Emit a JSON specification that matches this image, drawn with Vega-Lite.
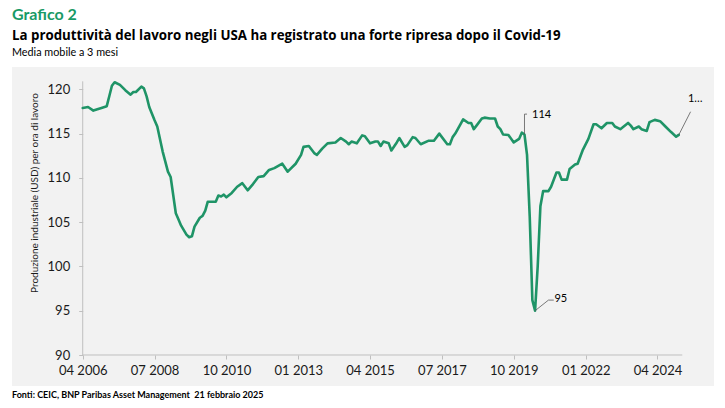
{
  "$schema": "https://vega.github.io/schema/vega-lite/v6.json",
  "background": "white",
  "padding": {"left": 12, "top": 6, "right": 11, "bottom": 0},
  "config": {
    "view": {"fill": "#f2f2f2", "stroke": null},
    "font": "Lato",
    "concat": {"spacing": 0}
  },
  "title": {
    "text": "Grafico 2",
    "subtitle": "La produttività del lavoro negli USA ha registrato una forte ripresa dopo il Covid-19",
    "anchor": "start",
    "frame": "bounds",
    "font": "Lato",
    "fontSize": 16,
    "fontWeight": "bold",
    "color": "#199a66",
    "subtitleFont": "Open Sans",
    "subtitleFontSize": 13.3,
    "subtitleFontWeight": "bold",
    "subtitleColor": "#000000",
    "subtitlePadding": 6,
    "offset": 5
  },
  "vconcat": [
    {
      "title": {
        "text": "Media mobile a 3 mesi",
        "anchor": "start",
        "frame": "bounds",
        "font": "Lato",
        "fontSize": 10.8,
        "fontWeight": "normal",
        "color": "#000000",
        "offset": 9
      },
      "vconcat": [
        {
          "title": {
            "text": "Fonti: CEIC, BNP Paribas Asset Management\u00a0 21 febbraio 2025",
            "orient": "bottom",
            "anchor": "start",
            "frame": "bounds",
            "font": "Lato",
            "fontSize": 9,
            "fontWeight": "bold",
            "color": "#000000",
            "offset": 5
          },
          "width": 702,
          "height": 319,
          "data": {
            "values": [
              {"date": "2006-04-01", "value": 117.9},
              {"date": "2006-06-01", "value": 118.0},
              {"date": "2006-08-01", "value": 117.6},
              {"date": "2006-11-01", "value": 117.9},
              {"date": "2007-01-01", "value": 118.1},
              {"date": "2007-02-01", "value": 119.3},
              {"date": "2007-03-01", "value": 120.4},
              {"date": "2007-04-01", "value": 120.8},
              {"date": "2007-06-01", "value": 120.5},
              {"date": "2007-08-01", "value": 119.9},
              {"date": "2007-10-01", "value": 119.4},
              {"date": "2007-11-01", "value": 119.7},
              {"date": "2007-12-01", "value": 119.7},
              {"date": "2008-02-01", "value": 120.3},
              {"date": "2008-03-01", "value": 120.1},
              {"date": "2008-04-01", "value": 119.2},
              {"date": "2008-05-01", "value": 118.0},
              {"date": "2008-07-01", "value": 116.5},
              {"date": "2008-08-01", "value": 115.8},
              {"date": "2008-10-01", "value": 113.0},
              {"date": "2008-12-01", "value": 110.7},
              {"date": "2009-01-01", "value": 110.1},
              {"date": "2009-03-01", "value": 106.0},
              {"date": "2009-04-01", "value": 105.3},
              {"date": "2009-05-01", "value": 104.6},
              {"date": "2009-07-01", "value": 103.6},
              {"date": "2009-08-01", "value": 103.3},
              {"date": "2009-09-01", "value": 103.4},
              {"date": "2009-10-01", "value": 104.5},
              {"date": "2009-12-01", "value": 105.5},
              {"date": "2010-01-01", "value": 105.7},
              {"date": "2010-02-01", "value": 106.3},
              {"date": "2010-03-01", "value": 107.3},
              {"date": "2010-06-01", "value": 107.3},
              {"date": "2010-07-01", "value": 108.0},
              {"date": "2010-08-01", "value": 107.9},
              {"date": "2010-09-01", "value": 108.1},
              {"date": "2010-10-01", "value": 107.8},
              {"date": "2010-12-01", "value": 108.3},
              {"date": "2011-02-01", "value": 109.0},
              {"date": "2011-04-01", "value": 109.4},
              {"date": "2011-06-01", "value": 108.6},
              {"date": "2011-08-01", "value": 109.3},
              {"date": "2011-10-01", "value": 110.1},
              {"date": "2011-12-01", "value": 110.2},
              {"date": "2012-02-01", "value": 110.9},
              {"date": "2012-04-01", "value": 111.1},
              {"date": "2012-07-01", "value": 111.6},
              {"date": "2012-09-01", "value": 110.7},
              {"date": "2012-12-01", "value": 111.6},
              {"date": "2013-02-01", "value": 112.6},
              {"date": "2013-03-01", "value": 113.5},
              {"date": "2013-05-01", "value": 113.6},
              {"date": "2013-07-01", "value": 112.8},
              {"date": "2013-08-01", "value": 112.6},
              {"date": "2013-10-01", "value": 113.3},
              {"date": "2013-12-01", "value": 113.9},
              {"date": "2014-03-01", "value": 114.0},
              {"date": "2014-05-01", "value": 114.5},
              {"date": "2014-07-01", "value": 114.1},
              {"date": "2014-08-01", "value": 113.8},
              {"date": "2014-09-01", "value": 114.1},
              {"date": "2014-11-01", "value": 113.9},
              {"date": "2015-01-01", "value": 114.8},
              {"date": "2015-02-01", "value": 114.7},
              {"date": "2015-04-01", "value": 113.9},
              {"date": "2015-06-01", "value": 114.1},
              {"date": "2015-07-01", "value": 114.1},
              {"date": "2015-08-01", "value": 113.6},
              {"date": "2015-09-01", "value": 114.1},
              {"date": "2015-11-01", "value": 113.9},
              {"date": "2015-12-01", "value": 113.1},
              {"date": "2016-02-01", "value": 114.0},
              {"date": "2016-03-01", "value": 114.5},
              {"date": "2016-05-01", "value": 113.5},
              {"date": "2016-06-01", "value": 113.7},
              {"date": "2016-08-01", "value": 114.6},
              {"date": "2016-09-01", "value": 114.5},
              {"date": "2016-11-01", "value": 113.8},
              {"date": "2017-02-01", "value": 114.2},
              {"date": "2017-04-01", "value": 114.2},
              {"date": "2017-06-01", "value": 115.0},
              {"date": "2017-09-01", "value": 113.8},
              {"date": "2017-10-01", "value": 113.8},
              {"date": "2017-11-01", "value": 114.6},
              {"date": "2017-12-01", "value": 115.0},
              {"date": "2018-02-01", "value": 116.1},
              {"date": "2018-03-01", "value": 116.6},
              {"date": "2018-05-01", "value": 116.2},
              {"date": "2018-06-01", "value": 116.2},
              {"date": "2018-07-01", "value": 115.5},
              {"date": "2018-08-01", "value": 115.9},
              {"date": "2018-10-01", "value": 116.7},
              {"date": "2018-11-01", "value": 116.8},
              {"date": "2019-01-01", "value": 116.7},
              {"date": "2019-03-01", "value": 116.7},
              {"date": "2019-04-01", "value": 115.8},
              {"date": "2019-05-01", "value": 115.5},
              {"date": "2019-06-01", "value": 114.9},
              {"date": "2019-08-01", "value": 114.85},
              {"date": "2019-10-01", "value": 114.0},
              {"date": "2019-12-01", "value": 114.4},
              {"date": "2020-01-01", "value": 115.1},
              {"date": "2020-02-01", "value": 114.9, "label": "114"},
              {"date": "2020-03-01", "value": 112.6},
              {"date": "2020-04-01", "value": 105.6},
              {"date": "2020-05-01", "value": 96.2},
              {"date": "2020-06-01", "value": 95.0, "label": "95"},
              {"date": "2020-07-01", "value": 100.0},
              {"date": "2020-08-01", "value": 106.8},
              {"date": "2020-09-01", "value": 108.5},
              {"date": "2020-11-01", "value": 108.5},
              {"date": "2020-12-01", "value": 109.0},
              {"date": "2021-02-01", "value": 110.6},
              {"date": "2021-03-01", "value": 110.6},
              {"date": "2021-04-01", "value": 109.8},
              {"date": "2021-06-01", "value": 109.8},
              {"date": "2021-07-01", "value": 111.0},
              {"date": "2021-09-01", "value": 111.5},
              {"date": "2021-10-01", "value": 111.6},
              {"date": "2021-12-01", "value": 113.2},
              {"date": "2022-02-01", "value": 114.4},
              {"date": "2022-04-01", "value": 116.05},
              {"date": "2022-05-01", "value": 116.05},
              {"date": "2022-07-01", "value": 115.6},
              {"date": "2022-09-01", "value": 116.2},
              {"date": "2022-11-01", "value": 116.2},
              {"date": "2022-12-01", "value": 115.8},
              {"date": "2023-02-01", "value": 115.5},
              {"date": "2023-05-01", "value": 116.2},
              {"date": "2023-06-01", "value": 115.9},
              {"date": "2023-07-01", "value": 115.5},
              {"date": "2023-09-01", "value": 115.8},
              {"date": "2023-10-01", "value": 115.5},
              {"date": "2023-12-01", "value": 115.3},
              {"date": "2024-01-01", "value": 116.3},
              {"date": "2024-03-01", "value": 116.55},
              {"date": "2024-05-01", "value": 116.4},
              {"date": "2024-07-01", "value": 115.8},
              {"date": "2024-09-01", "value": 115.2},
              {"date": "2024-11-01", "value": 114.65},
              {"date": "2024-12-01", "value": 114.85, "label": "1…"}
            ]
          },
          "layer": [
            {
              "data": {"values": [{}]},
              "mark": {"type": "rule", "color": "#bfbfbf", "strokeWidth": 1},
              "encoding": {
                "x": {"datum": {"year": 2006, "month": 4, "date": 1, "utc": true}, "type": "temporal"},
                "x2": {"datum": {"year": 2025, "month": 1, "date": 10, "utc": true}},
                "y": {"datum": 90, "type": "quantitative"}
              }
            },
            {
              "data": {"values": [{}]},
              "mark": {"type": "rule", "color": "#bfbfbf", "strokeWidth": 1},
              "encoding": {
                "x": {"datum": {"year": 2006, "month": 4, "date": 1, "utc": true}, "type": "temporal"},
                "y": {"datum": 90, "type": "quantitative"},
                "y2": {"datum": 120.9}
              }
            },
            {
              "mark": {"type": "line", "color": "#1f9467", "strokeWidth": 2.6, "strokeJoin": "round", "strokeCap": "round"},
              "encoding": {
                "x": {
                  "field": "date",
                  "type": "temporal",
                  "scale": {
                    "type": "utc",
                    "domain": [
                      {"year": 2004, "month": 1, "date": 13, "utc": true},
                      {"year": 2026, "month": 1, "date": 8, "utc": true}
                    ],
                    "nice": false
                  },
                  "axis": {
                    "values": [
                      {"year": 2006, "month": 4, "date": 1, "utc": true},
                      {"year": 2008, "month": 7, "date": 1, "utc": true},
                      {"year": 2010, "month": 10, "date": 1, "utc": true},
                      {"year": 2013, "month": 1, "date": 1, "utc": true},
                      {"year": 2015, "month": 4, "date": 1, "utc": true},
                      {"year": 2017, "month": 7, "date": 1, "utc": true},
                      {"year": 2019, "month": 10, "date": 1, "utc": true},
                      {"year": 2022, "month": 1, "date": 1, "utc": true},
                      {"year": 2024, "month": 4, "date": 1, "utc": true}
                    ],
                    "labelExpr": "utcFormat(datum.value, '%m %Y')",
                    "offset": -31,
                    "domain": false,
                    "grid": false,
                    "ticks": true,
                    "tickSize": 4,
                    "tickColor": "#bfbfbf",
                    "labelFont": "Lato",
                    "labelFontSize": 13,
                    "labelColor": "#1a1a1a",
                    "labelPadding": 5,
                    "labelFlush": false,
                    "labelOverlap": false,
                    "title": null
                  }
                },
                "y": {
                  "field": "value",
                  "type": "quantitative",
                  "scale": {"domain": [86.5, 122.52], "nice": false, "zero": false},
                  "axis": {
                    "values": [90, 95, 100, 105, 110, 115, 120],
                    "offset": -70.7,
                    "domain": false,
                    "grid": false,
                    "tickSize": 4,
                    "tickColor": "#bfbfbf",
                    "labelFont": "Lato",
                    "labelFontSize": 13,
                    "labelColor": "#1a1a1a",
                    "labelPadding": 9,
                    "title": "Produzione industriale (USD) per ora di lavoro",
                    "titleFont": "Lato",
                    "titleFontSize": 10,
                    "titleFontWeight": "normal",
                    "titleColor": "#1a1a1a",
                    "titlePadding": 8,
                    "titleY": 125.5
                  }
                }
              }
            },
            {
              "transform": [{"filter": "datum.label == '114'"}],
              "mark": {"type": "rule", "color": "#595959", "strokeWidth": 0.8},
              "encoding": {
                "x": {"field": "date", "type": "temporal"},
                "y": {"field": "value", "type": "quantitative"},
                "y2": {"datum": 117.2}
              }
            },
            {
              "transform": [{"filter": "datum.label == '114'"}],
              "mark": {"type": "rule", "color": "#595959", "strokeWidth": 0.8},
              "encoding": {
                "x": {"field": "date", "type": "temporal"},
                "x2": {"datum": {"year": 2020, "month": 3, "date": 1, "utc": true}},
                "y": {"datum": 117.2, "type": "quantitative"}
              }
            },
            {
              "transform": [{"filter": "datum.label == '95'"}],
              "mark": {"type": "rule", "color": "#595959", "strokeWidth": 0.8},
              "encoding": {
                "x": {"field": "date", "type": "temporal"},
                "y": {"field": "value", "type": "quantitative"},
                "x2": {"datum": {"year": 2020, "month": 11, "date": 1, "utc": true}},
                "y2": {"datum": 96.2}
              }
            },
            {
              "data": {"values": [{}]},
              "mark": {"type": "rule", "color": "#595959", "strokeWidth": 0.8},
              "encoding": {
                "x": {"datum": {"year": 2020, "month": 11, "date": 1, "utc": true}, "type": "temporal"},
                "x2": {"datum": {"year": 2021, "month": 1, "date": 1, "utc": true}},
                "y": {"datum": 96.2, "type": "quantitative"}
              }
            },
            {
              "transform": [{"filter": "datum.label == '1…'"}],
              "mark": {"type": "rule", "color": "#595959", "strokeWidth": 0.8},
              "encoding": {
                "x": {"field": "date", "type": "temporal"},
                "y": {"field": "value", "type": "quantitative"},
                "x2": {"datum": {"year": 2025, "month": 4, "date": 15, "utc": true}},
                "y2": {"datum": 117.47}
              }
            },
            {
              "transform": [{"filter": "datum.label == '114'"}],
              "mark": {"type": "text", "align": "left", "baseline": "middle", "dx": 7.6, "dy": -19.5, "font": "Lato", "fontSize": 11, "color": "#000000"},
              "encoding": {
                "x": {"field": "date", "type": "temporal"},
                "y": {"field": "value", "type": "quantitative"},
                "text": {"field": "label"}
              }
            },
            {
              "transform": [{"filter": "datum.label == '95'"}],
              "mark": {"type": "text", "align": "left", "baseline": "middle", "dx": 19.4, "dy": -11.7, "font": "Lato", "fontSize": 11, "color": "#000000"},
              "encoding": {
                "x": {"field": "date", "type": "temporal"},
                "y": {"field": "value", "type": "quantitative"},
                "text": {"field": "label"}
              }
            },
            {
              "transform": [{"filter": "datum.label == '1…'"}],
              "mark": {"type": "text", "align": "left", "baseline": "middle", "dx": 9.2, "dy": -35.9, "font": "Lato", "fontSize": 11, "color": "#000000"},
              "encoding": {
                "x": {"field": "date", "type": "temporal"},
                "y": {"field": "value", "type": "quantitative"},
                "text": {"field": "label"}
              }
            }
          ]
        }
      ]
    }
  ]
}
